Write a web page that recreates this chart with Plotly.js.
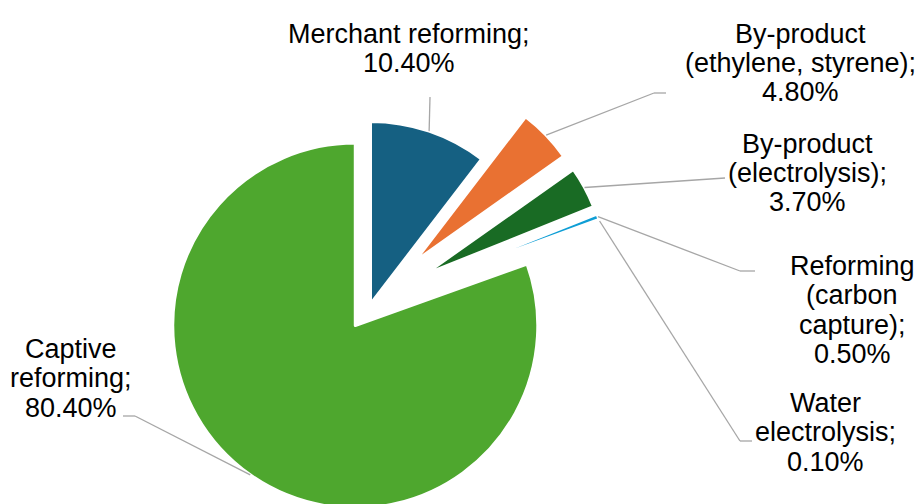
<!DOCTYPE html>
<html>
<head>
<meta charset="utf-8">
<script src="https://cdn.plot.ly/plotly-3.0.1.min.js"></script>
<style>
  html, body { margin: 0; padding: 0; overflow: hidden; background: #ffffff; width: 919px; height: 504px; }
  #chart { width: 919px; height: 560px; }
</style>
</head>
<body>
<div id="chart"></div>
<script>
// ---- Data ----
const categories = ['Merchant reforming', 'By-product (ethylene, styrene)', 'By-product (electrolysis)',
                    'Reforming (carbon capture)', 'Water electrolysis', 'Captive reforming'];
const shares = [10.4, 4.8, 3.7, 0.5, 0.1, 80.4];
const labelNameLines = [
  ['Merchant reforming;'],
  ['By-product', '(ethylene, styrene);'],
  ['By-product', '(electrolysis);'],
  ['Reforming', '(carbon', 'capture);'],
  ['Water', 'electrolysis;'],
  ['Captive', 'reforming;']
];
const sliceColors = ['#156082', '#E97132', '#196B24', '#0F9ED5', '#A02B93', '#4EA72E'];
const slicePull = [0, 0.335, 0.335, 0.335, 0.335, 0.145];

// ---- Layout (pixels) ----
const W = 919, H = 560;
const labelAnchor = [[408.5, 43], [800, 43], [807, 153], [852, 275], [825, 412], [71, 358]];
const leaderEnds = [
  [[430, 97]],
  [[654, 93], [666, 93]],
  [[725, 178]],
  [[740, 271], [755, 271]],
  [[740, 441], [752, 441]],
  [[135, 416], [123, 416]]
];
const linePitch = 29.5;
const FONT = '"Liberation Sans", Arial, Helvetica, sans-serif';

const px2x = px => px / W;
const px2y = py => 1 - py / H;

const annotations = [];
labelNameLines.forEach((lines, i) => {
  const all = lines.concat([shares[i].toFixed(2) + '%']);
  all.forEach((t, j) => {
    const baseline = labelAnchor[i][1] + j * linePitch;
    annotations.push({
      text: t, showarrow: false, xref: 'paper', yref: 'paper',
      x: px2x(labelAnchor[i][0]), y: px2y(baseline - 9.5),
      xanchor: 'center', yanchor: 'middle',
      font: { family: FONT, size: 27, color: '#000000' }
    });
  });
});

const trace = {
  type: 'pie',
  labels: categories,
  values: shares,
  sort: false,
  direction: 'clockwise',
  rotation: 0,
  pull: slicePull,
  textinfo: 'none',
  hoverinfo: 'skip',
  marker: { colors: sliceColors, line: { color: '#ffffff', width: 3 } },
  domain: { x: [0.11316, 0.69316], y: [0.02214, 0.8923] }
};

const layout = {
  width: W, height: H,
  margin: { l: 0, r: 0, t: 0, b: 0 },
  paper_bgcolor: '#ffffff',
  showlegend: false,
  annotations: annotations
};

const gd = document.getElementById('chart');
Plotly.newPlot(gd, [trace], layout, { displayModeBar: false, staticPlot: true }).then(() => {
  const cd = gd.calcdata[0];
  const cd0 = cd[0];
  const shapes = [];
  const total = shares.reduce((a, b) => a + b, 0);
  let cum = 0;
  shares.forEach((v, i) => {
    const mid = (cum + v / 2) / total * 2 * Math.PI;
    cum += v;
    let pt = cd.find(p => p.i === i);
    let mx, my;
    if (pt && pt.pxmid) { mx = pt.pxmid[0]; my = pt.pxmid[1]; }
    else { mx = cd0.r * Math.sin(mid); my = -cd0.r * Math.cos(mid); }
    const k = 1 + slicePull[i];
    let pts = [[cd0.cx + mx * k, cd0.cy + my * k]].concat(leaderEnds[i]);
    for (let s = 0; s < pts.length - 1; s++) {
      shapes.push({
        type: 'line', xref: 'paper', yref: 'paper',
        x0: px2x(pts[s][0]), y0: px2y(pts[s][1]),
        x1: px2x(pts[s + 1][0]), y1: px2y(pts[s + 1][1]),
        line: { color: '#A6A6A6', width: 1.3 }
      });
    }
  });
  return Plotly.relayout(gd, { shapes: shapes });
});
</script>
</body>
</html>
